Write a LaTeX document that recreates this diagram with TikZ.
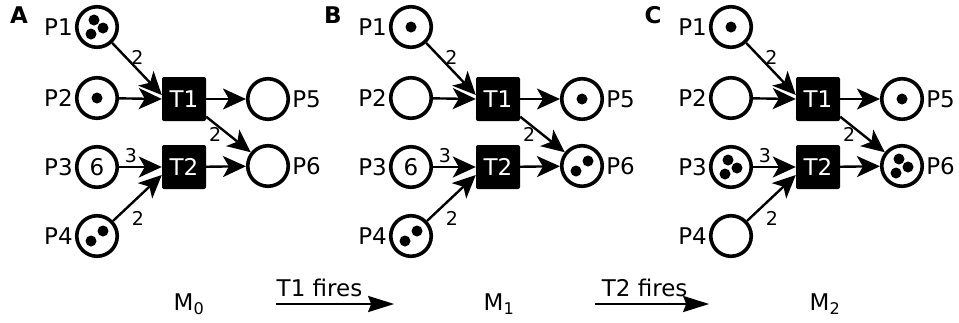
\documentclass[tikz,border=0pt]{standalone}
\usepackage{fontspec}
\setmainfont{DejaVu Sans}
\usetikzlibrary{arrows.meta}

\tikzset{
   place/.style      = {circle, draw, line width=3.6pt, minimum size=40.5pt, inner sep=0pt,
                        font=\fontsize{23}{27}\selectfont},
   transition/.style = {rectangle, fill=black, rounded corners=2pt, minimum size=44pt,
                        inner sep=0pt, text=white, font=\fontsize{23}{27}\selectfont},
   placelabel/.style = {font=\fontsize{23}{27}\selectfont, inner sep=2pt},
   weight/.style     = {font=\fontsize{19}{22}\selectfont, inner sep=2pt},
   arc/.style        = {-{Stealth[length=23pt,width=21pt,inset=6pt]}, line width=2.4pt},
   firing/.style     = {-{Stealth[length=26pt,width=16pt,inset=3pt]}, line width=2.4pt},
}

% tokens inside a place
\newcommand{\onetoken}[1]{\fill (#1.center) circle (5.5pt);}
\newcommand{\twotokens}[1]{\fill ([shift={(-6,5)}]#1.center) circle (5.5pt)
                                  ([shift={(6,-5)}]#1.center) circle (5.5pt);}
\newcommand{\threetokens}[1]{\fill ([shift={(-3,-7)}]#1.center) circle (5.5pt)
                                    ([shift={(6,1)}]#1.center) circle (5.5pt)
                                    ([shift={(-6,7)}]#1.center) circle (5.5pt);}

\begin{document}
\begin{tikzpicture}[x=1pt, y=-1pt]
   \useasboundingbox (0,0) rectangle (959,322);

   % the same net, three markings
   \foreach \pn/\letter/\dx/\six in {a/A/0/6, b/B/314/6, c/C/634/{}} {
      \begin{scope}[xshift=\dx pt]
         \node[font=\bfseries\fontsize{23}{27}\selectfont] (\pn name) at (19,15) {\letter};

         \node[place] (\pn p1) at (97,27)  {};
         \node[place] (\pn p2) at (97,98)  {};
         \node[place] (\pn p3) at (97,167) {\six};
         \node[place] (\pn p4) at (97,236) {};
         \node[place] (\pn p5) at (268,99) {};
         \node[place] (\pn p6) at (268,166){};

         \node[placelabel, left]  (\pn l1) at (\pn p1.west) {P1};
         \node[placelabel, left]  (\pn l2) at (\pn p2.west) {P2};
         \node[placelabel, left]  (\pn l3) at (\pn p3.west) {P3};
         \node[placelabel, left]  (\pn l4) at (\pn p4.west) {P4};
         \node[placelabel, right] (\pn l5) at (\pn p5.east) {P5};
         \node[placelabel, right] (\pn l6) at (\pn p6.east) {P6};

         \node[transition] (\pn t1) at (184,99)  {T1};
         \node[transition] (\pn t2) at (184,167) {T2};

         \draw[arc] (\pn p1) -- ([shift={(0,-4)}]\pn t1.west)
            node[weight, pos=0.28, right, inner sep=4pt] {2};
         \draw[arc] (\pn p2) -- (\pn t1.west);
         \draw[arc] (\pn p3) -- (\pn t2.west)
            node[weight, pos=0.28, above, inner sep=3pt] {3};
         \draw[arc] (\pn p4) -- ([shift={(0,8)}]\pn t2.west)
            node[weight, pos=0.3, below right, inner sep=3pt] {2};
         \draw[arc] (\pn t1) -- (\pn p5);
         \draw[arc] (\pn t1) -- (\pn p6)
            node[weight, pos=0.2, below, inner sep=2pt] {2};
         \draw[arc] (\pn t2) -- (\pn p6);
      \end{scope}
   }

   % marking M0
   \threetokens{ap1}
   \onetoken{ap2}
   \twotokens{ap4}
   % marking M1
   \onetoken{bp1}
   \twotokens{bp4}
   \onetoken{bp5}
   \twotokens{bp6}
   % marking M2
   \onetoken{cp1}
   \threetokens{cp3}
   \onetoken{cp5}
   \threetokens{cp6}

   % firing sequence
   \node[font=\fontsize{23}{27}\selectfont] (m0) at (189,304) {M\textsubscript{0}};
   \node[font=\fontsize{23}{27}\selectfont] (m1) at (499,304) {M\textsubscript{1}};
   \node[font=\fontsize{23}{27}\selectfont] (m2) at (825,304) {M\textsubscript{2}};

   \draw[firing, shorten <=68pt, shorten >=86pt] (m0.east) -- (m1.west)
      node[pos=0.41, above, inner sep=6pt, font=\fontsize{23}{27}\selectfont] {T1 fires};
   \draw[firing, shorten <=77pt, shorten >=97pt] (m1.east) -- (m2.west)
      node[pos=0.44, above, inner sep=6pt, font=\fontsize{23}{27}\selectfont] {T2 fires};
\end{tikzpicture}
\end{document}
